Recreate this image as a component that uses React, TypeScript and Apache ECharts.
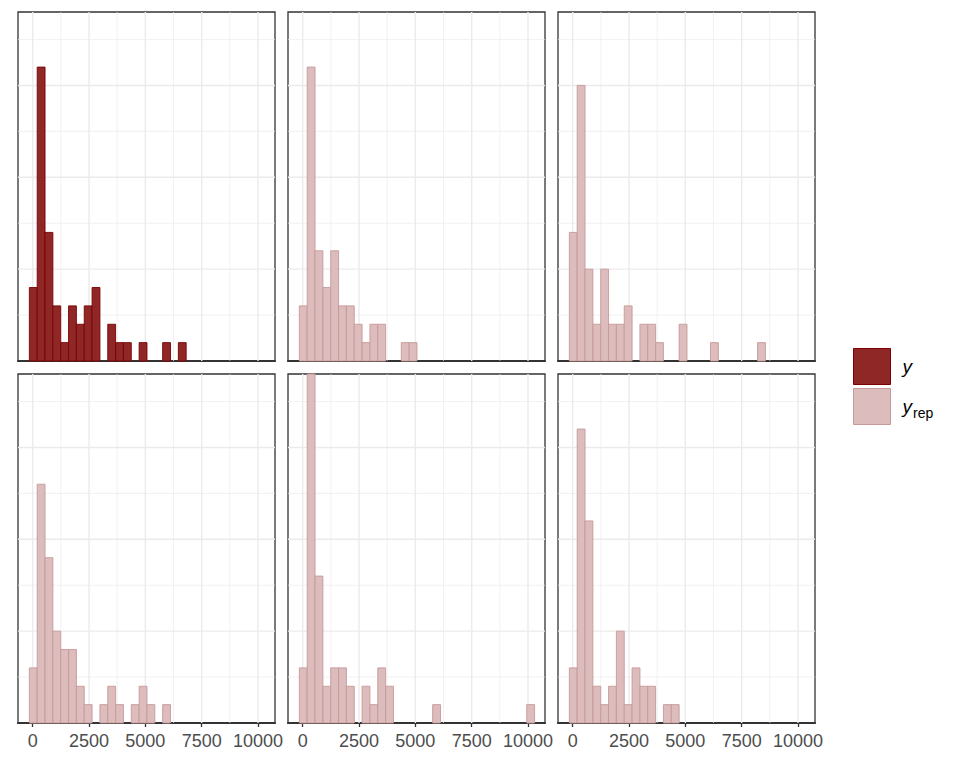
import React, { useEffect, useRef } from "react";
import * as echarts from "echarts";

// ---- data (30 bins shared by all panels) ----
const BIN_START = -148;
const BIN_WIDTH = 348;
const X_MIN = -652;
const X_MAX = 10754;
const Y_MAX = 19;

const X_TICKS = [0, 2500, 5000, 7500, 10000];
const X_TICK_LABELS = ["0", "2500", "5000", "7500", "10000"];
const X_MINOR = [1250, 3750, 6250, 8750];
const Y_MAJOR = [5, 10, 15];
const Y_MINOR = [2.5, 7.5, 12.5, 17.5];

const yCounts = [4, 16, 7, 3, 1, 3, 2, 3, 4, 0, 2, 1, 1, 0, 1, 0, 0, 1, 0, 1, 0, 0, 0, 0, 0, 0, 0, 0, 0, 0];
const yrep1 = [3, 16, 6, 4, 6, 3, 3, 2, 1, 2, 2, 0, 0, 1, 1, 0, 0, 0, 0, 0, 0, 0, 0, 0, 0, 0, 0, 0, 0, 0];
const yrep2 = [7, 15, 5, 2, 5, 2, 2, 3, 0, 2, 2, 1, 0, 0, 2, 0, 0, 0, 1, 0, 0, 0, 0, 0, 1, 0, 0, 0, 0, 0];
const yrep3 = [3, 13, 9, 5, 4, 4, 2, 1, 0, 1, 2, 1, 0, 1, 2, 1, 0, 1, 0, 0, 0, 0, 0, 0, 0, 0, 0, 0, 0, 0];
const yrep4 = [3, 19, 8, 2, 3, 3, 2, 0, 2, 1, 3, 2, 0, 0, 0, 0, 0, 1, 0, 0, 0, 0, 0, 0, 0, 0, 0, 0, 0, 1];
const yrep5 = [3, 16, 11, 2, 1, 2, 5, 1, 3, 2, 2, 0, 1, 1, 0, 0, 0, 0, 0, 0, 0, 0, 0, 0, 0, 0, 0, 0, 0, 0];

const PANEL_COUNTS = [yCounts, yrep1, yrep2, yrep3, yrep4, yrep5];
const PANEL_NAMES = ["y", "yrep", "yrep", "yrep", "yrep", "yrep"];

// ---- layout / style ----
const COL_LEFT = [18, 288, 558];
const ROW_TOP = [12, 374];
const PANEL_W = 257;
const PANEL_H = 349;
const FONT = "'Liberation Sans', Arial, sans-serif";

const STYLES: Record<string, { fill: string; stroke: string }> = {
  y: { fill: "#8F2727", stroke: "#7C0000" },
  yrep: { fill: "#DCBCBC", stroke: "#C79999" },
};

export default function App() {
  const ref = useRef<HTMLDivElement>(null);

  useEffect(() => {
    if (!ref.current) return;
    const chart = echarts.init(ref.current, null, { renderer: "svg" });

    const grids: any[] = [];
    const xAxes: any[] = [];
    const yAxes: any[] = [];
    const series: any[] = [];

    const gridData: number[][] = [];
    X_TICKS.forEach((v) => gridData.push([0, v, 1]));
    X_MINOR.forEach((v) => gridData.push([0, v, 0]));
    Y_MAJOR.forEach((v) => gridData.push([1, v, 1]));
    Y_MINOR.forEach((v) => gridData.push([1, v, 0]));

    PANEL_COUNTS.forEach((counts, i) => {
      const row = Math.floor(i / 3);
      const col = i % 3;
      const bottom = row === 1;
      grids.push({
        left: COL_LEFT[col],
        top: ROW_TOP[row],
        width: PANEL_W,
        height: PANEL_H,
        show: true,
        borderColor: "#333333",
        borderWidth: 1.3,
        backgroundColor: "#ffffff",
        z: 0,
      });
      xAxes.push({
        type: "value",
        gridIndex: i,
        min: X_MIN,
        max: X_MAX,
        splitLine: { show: false },
        axisLine: { show: true, onZero: false, lineStyle: { color: "#333333", width: 2 } },
        axisTick: {
          show: bottom,
          length: 4,
          customValues: X_TICKS,
          lineStyle: { color: "#333333", width: 1.3 },
        },
        axisLabel: {
          show: bottom,
          customValues: X_TICKS,
          formatter: (v: number) => {
            const k = X_TICKS.indexOf(v);
            return k >= 0 ? X_TICK_LABELS[k] : String(v);
          },
          margin: 9,
          fontSize: 18,
          color: "#4D4D4D",
          fontFamily: FONT,
        },
      });
      yAxes.push({
        type: "value",
        gridIndex: i,
        min: 0,
        max: Y_MAX,
        axisLine: { show: false },
        axisTick: { show: false },
        axisLabel: { show: false },
        splitLine: { show: false },
      });

      series.push({
        type: "custom",
        name: "grid" + i,
        xAxisIndex: i,
        yAxisIndex: i,
        silent: true,
        z: 1,
        data: gridData,
        renderItem: (params: any, api: any) => {
          const cs = params.coordSys;
          const kind = api.value(0);
          const v = api.value(1);
          const major = api.value(2) === 1;
          const style = { stroke: "#EBEBEB", lineWidth: major ? 1.4 : 0.7 };
          if (kind === 0) {
            const p = api.coord([v, 0]);
            return { type: "line", shape: { x1: p[0], y1: cs.y, x2: p[0], y2: cs.y + cs.height }, style };
          }
          const p = api.coord([0, v]);
          return { type: "line", shape: { x1: cs.x, y1: p[1], x2: cs.x + cs.width, y2: p[1] }, style };
        },
      });

      const bins = counts
        .map((c, b) => [BIN_START + b * BIN_WIDTH, BIN_START + (b + 1) * BIN_WIDTH, c])
        .filter((d) => d[2] > 0);
      const st = STYLES[PANEL_NAMES[i]];
      series.push({
        type: "custom",
        name: PANEL_NAMES[i],
        xAxisIndex: i,
        yAxisIndex: i,
        z: 2,
        encode: { x: [0, 1], y: 2 },
        itemStyle: { color: st.fill, borderColor: st.stroke, borderWidth: 1 },
        data: bins,
        renderItem: (params: any, api: any) => {
          const p0 = api.coord([api.value(0), api.value(2)]);
          const p1 = api.coord([api.value(1), 0]);
          return {
            type: "rect",
            shape: { x: p0[0], y: p0[1], width: p1[0] - p0[0], height: p1[1] - p0[1] },
            style: { fill: st.fill, stroke: st.stroke, lineWidth: 0.9 },
          };
        },
      });
    });

    chart.setOption({
      animation: false,
      backgroundColor: "#ffffff",
      grid: grids,
      xAxis: xAxes,
      yAxis: yAxes,
      series,
      legend: {
        show: true,
        orient: "vertical",
        left: 853,
        top: 348,
        padding: 0,
        itemWidth: 37,
        itemHeight: 36,
        itemGap: 3,
        selectedMode: false,
        icon: "rect",
        data: [
          { name: "y", itemStyle: { color: STYLES.y.fill, borderColor: STYLES.y.stroke, borderWidth: 1 } },
          { name: "yrep", itemStyle: { color: STYLES.yrep.fill, borderColor: STYLES.yrep.stroke, borderWidth: 1 } },
        ],
        formatter: (name: string) => (name === "y" ? "{i|y}" : "{i|y}{s|rep}"),
        textStyle: {
          padding: [0, 0, 0, 7],
          rich: {
            i: { fontStyle: "italic", fontSize: 19, color: "#000000", fontFamily: FONT },
            s: { fontSize: 14, color: "#000000", fontFamily: FONT, padding: [12, 0, 0, 1] },
          },
        },
      },
    });

    return () => chart.dispose();
  }, []);

  return (
    <div
      ref={ref}
      style={{ position: "absolute", left: 0, top: 0, width: 960, height: 768, background: "#fff" }}
    />
  );
}
